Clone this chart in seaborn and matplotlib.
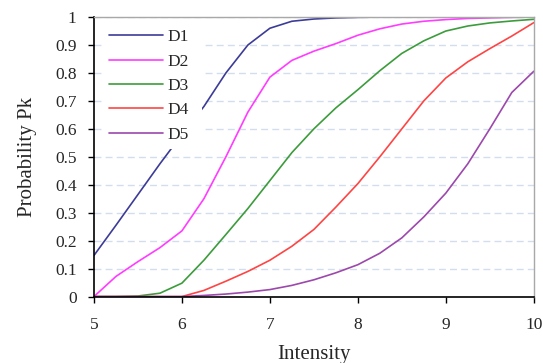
import pandas as pd
import matplotlib
matplotlib.use("Agg")
import matplotlib.pyplot as plt
import seaborn as sns

# ----------------------
# Data
# ----------------------
intensity = [5.0, 5.25, 5.5, 5.75, 6.0, 6.25, 6.5, 6.75, 7.0, 7.25, 7.5,
             7.75, 8.0, 8.25, 8.5, 8.75, 9.0, 9.25, 9.5, 9.75, 10.0]

d1 = [0.147, 0.255, 0.365, 0.475, 0.58, 0.68, 0.80, 0.90, 0.96, 0.985, 0.993,
      0.997, 0.999, 1.0, 1.0, 1.0, 1.0, 1.0, 1.0, 1.0, 1.0]
d2 = [0.0, 0.072, 0.125, 0.175, 0.235, 0.35, 0.50, 0.66, 0.785, 0.845, 0.878,
      0.905, 0.935, 0.958, 0.975, 0.985, 0.991, 0.995, 0.997, 0.999, 1.0]
d3 = [0.0, 0.0, 0.002, 0.012, 0.048, 0.13, 0.222, 0.315, 0.415, 0.515, 0.60,
      0.675, 0.74, 0.808, 0.87, 0.915, 0.95, 0.968, 0.979, 0.986, 0.992]
d4 = [0.0, 0.0, 0.0, 0.0, 0.0, 0.022, 0.055, 0.09, 0.13, 0.18, 0.24,
      0.32, 0.404, 0.50, 0.60, 0.70, 0.782, 0.84, 0.887, 0.932, 0.98]
d5 = [0.0, 0.0, 0.0, 0.0, 0.0, 0.004, 0.009, 0.016, 0.025, 0.04, 0.06,
      0.085, 0.114, 0.155, 0.21, 0.285, 0.37, 0.475, 0.60, 0.73, 0.806]

states = ["D1", "D2", "D3", "D4", "D5"]
colors = ["#3c3c98", "#ff3cff", "#3c9c3c", "#ff4444", "#9c48ac"]

y_ticks = [0, 0.1, 0.2, 0.3, 0.4, 0.5, 0.6, 0.7, 0.8, 0.9, 1]
y_tick_labels = ["0", "0.1", "0.2", "0.3", "0.4", "0.5", "0.6", "0.7", "0.8", "0.9", "1"]
x_ticks = [5, 6, 7, 8, 9, 10]

# ----------------------
# Long-form table
# ----------------------
frames = []
for name, vals in zip(states, [d1, d2, d3, d4, d5]):
    frames.append(pd.DataFrame({"Intensity": intensity, "Pk": vals, "state": name}))
df = pd.concat(frames, ignore_index=True)

# ----------------------
# Plot settings
# ----------------------
sns.set_style("white")
plt.rcParams["font.family"] = ["Liberation Serif", "DejaVu Serif"]

fig = plt.figure(figsize=(5.43, 3.63), dpi=100)
ax = fig.add_axes([0.173, 0.183, 0.810, 0.770])

sns.lineplot(data=df, x="Intensity", y="Pk", hue="state",
             palette=dict(zip(states, colors)), linewidth=1.2, ax=ax)

ax.set_xlim(5, 10)
ax.set_ylim(0, 1)
ax.set_xticks(x_ticks)
ax.set_yticks(y_ticks)
ax.set_yticklabels(y_tick_labels)
ax.tick_params(axis="both", which="major", direction="out", length=4.5,
               width=1, color="black", labelsize=12.5, bottom=True, left=True)
ax.tick_params(axis="x", pad=10)
ax.tick_params(axis="y", pad=8)

ax.set_axisbelow(True)
ax.yaxis.grid(True, linestyle=(0, (5, 3)), color="#d2deee", linewidth=1)
ax.xaxis.grid(False)

for side in ["left", "bottom"]:
    ax.spines[side].set_color("black")
    ax.spines[side].set_linewidth(1.2)
for side in ["top", "right"]:
    ax.spines[side].set_color("#a8a8a8")
    ax.spines[side].set_linewidth(1.0)

ax.set_xlabel("Intensity", fontsize=15, labelpad=9)
ax.set_ylabel("Probability Pk", fontsize=15, labelpad=13)

handles, labels = ax.get_legend_handles_labels()
leg = ax.legend(handles, labels, loc="upper left",
                bbox_to_anchor=(0.02, 0.5, 0.225, 0.478), mode="expand",
                frameon=True, facecolor="white", edgecolor="none", framealpha=1,
                fancybox=False, fontsize=12.5, handlelength=3.1,
                handletextpad=0.25, labelspacing=0.47, borderpad=0.35,
                borderaxespad=0)

fig.savefig("out.png", dpi=100)
